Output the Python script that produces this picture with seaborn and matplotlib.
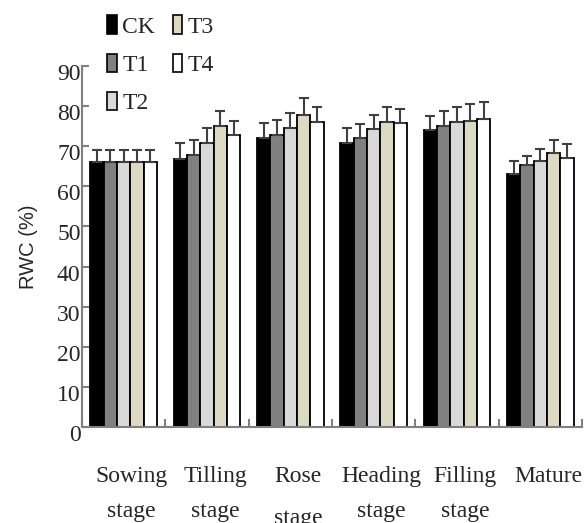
import matplotlib
matplotlib.use("Agg")
import matplotlib.pyplot as plt
import matplotlib.transforms as mtransforms
from matplotlib.patches import Patch
import numpy as np
import pandas as pd
import seaborn as sns

stages = ["Sowing\nstage", "Tilling\nstage", "Rose\nstage", "Heading\nstage", "Filling\nstage", "Mature"]
treatments = ["CK", "T1", "T2", "T3", "T4"]
colors = ["#000000", "#808080", "#d9d9d9", "#ddd9c3", "#ffffff"]

ck = [66.0, 66.8, 72.1, 70.9, 74.1, 63.1]
t1 = [66.0, 67.9, 72.8, 72.0, 75.0, 65.2]
t2 = [66.0, 70.9, 74.6, 74.2, 76.1, 66.3]
t3 = [66.0, 75.0, 77.9, 76.1, 76.4, 68.2]
t4 = [66.0, 72.8, 76.1, 75.7, 76.8, 67.1]

ck_err = [3.0, 3.9, 3.6, 3.7, 3.5, 3.2]
t1_err = [3.0, 3.6, 3.7, 3.6, 3.7, 2.4]
t2_err = [3.0, 3.7, 3.6, 3.6, 3.6, 2.9]
t3_err = [3.0, 3.7, 4.0, 3.6, 4.1, 3.3]
t4_err = [3.0, 3.6, 3.6, 3.5, 4.2, 3.5]

values = [ck, t1, t2, t3, t4]
errors = [ck_err, t1_err, t2_err, t3_err, t4_err]

rows = []
for tr, vals in zip(treatments, values):
    for st, v in zip(stages, vals):
        rows.append({"stage": st, "treatment": tr, "value": v})
df = pd.DataFrame(rows)

sns.set_theme(style="white")
plt.rcParams["font.family"] = ["Liberation Serif", "DejaVu Serif"]

fig = plt.figure(figsize=(5.87, 5.23), dpi=100)
ax = fig.add_axes([82 / 587, 1 - 427 / 523, 500 / 587, 361 / 523])

sns.barplot(data=df, x="stage", y="value", hue="treatment", order=stages,
            hue_order=treatments, palette=colors, saturation=1, width=0.8,
            edgecolor="black", linewidth=1.3, errorbar=None, legend=False, ax=ax)

for cont, err in zip(ax.containers, errors):
    xs = [p.get_x() + p.get_width() / 2 for p in cont.patches]
    ys = [p.get_height() for p in cont.patches]
    ax.errorbar(xs, ys, yerr=[np.zeros(len(err)), err], fmt="none",
                ecolor="#404040", elinewidth=1.5, capsize=3.5, capthick=1.5, zorder=1)

ax.set_xlim(-0.5, 5.5)
ax.set_ylim(0, 90)
ax.set_yticks(range(0, 91, 10))
ax.set_xlabel("")
ax.set_ylabel("RWC (%)", family=["Liberation Sans", "DejaVu Sans"], fontsize=14.5, labelpad=14)

for s in ["top", "right"]:
    ax.spines[s].set_visible(False)
for s in ["left", "bottom"]:
    ax.spines[s].set_color("#808080")
    ax.spines[s].set_linewidth(1.5)

ax.tick_params(axis="y", direction="in", length=5, width=1.5, color="#808080",
               labelsize=17, pad=1, left=True)
ax.set_xticks(range(6))
ax.set_xticklabels(stages, fontsize=17)
ax.tick_params(axis="x", which="major", length=0, pad=28)
ax.set_xticks(np.arange(-0.5, 5.6, 1.0), minor=True)
ax.tick_params(axis="x", which="minor", direction="in", length=6, width=1.5,
               color="#808080", bottom=True)

dx = mtransforms.ScaledTranslation(8 / 100, 0, fig.dpi_scale_trans)
for lab in ax.get_xticklabels():
    lab.set_linespacing(1.9)
    lab.set_transform(lab.get_transform() + dx)
    if lab.get_text().startswith("Rose"):
        lab.set_linespacing(2.35)

dy = mtransforms.ScaledTranslation(0, -6 / 100, fig.dpi_scale_trans)
for lab in ax.get_yticklabels():
    lab.set_transform(lab.get_transform() + dy)

handles = [Patch(facecolor=c, edgecolor="black", linewidth=1.2) for c in colors]
fig.legend(handles, treatments, loc="upper left",
           bbox_to_anchor=(98 / 587, 1 - 6 / 523), ncol=2, frameon=False,
           fontsize=17, handlelength=0.42, handleheight=0.8, handletextpad=0.2,
           labelspacing=0.68, columnspacing=0.75, borderaxespad=0)

fig.savefig("out.png", dpi=100)
